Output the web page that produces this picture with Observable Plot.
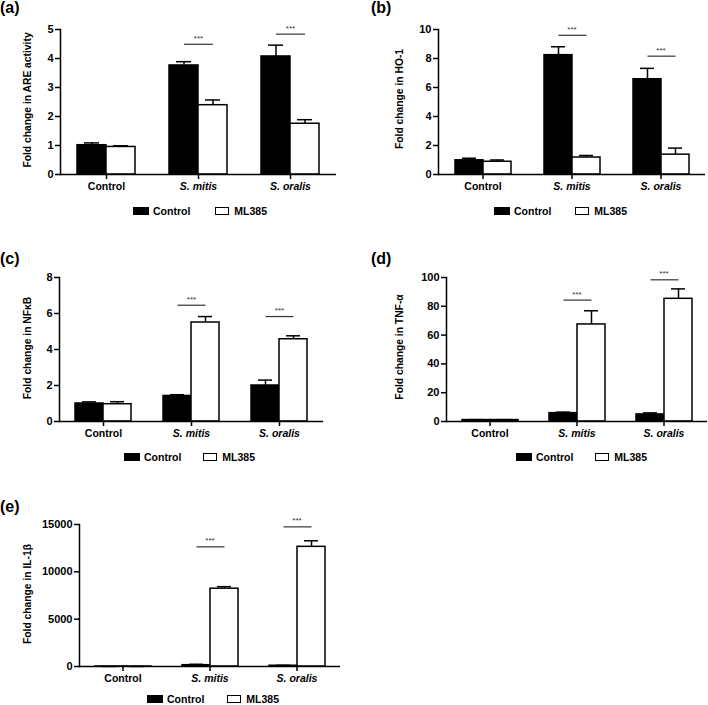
<!DOCTYPE html>
<html><head><meta charset="utf-8">
<script src="https://cdn.jsdelivr.net/npm/d3@7"></script>
<script src="https://cdn.jsdelivr.net/npm/@observablehq/plot@0.6"></script>
<style>
body{margin:0;background:#fff;}
#root{position:relative;width:708px;height:705px;font-family:"Liberation Sans",Arial,sans-serif;color:#000;}
.panel{position:absolute;}
.tag{position:absolute;font-weight:bold;font-size:16px;line-height:16px;}
.ylab{position:absolute;font-weight:bold;font-size:10.3px;line-height:11px;white-space:nowrap;transform:translate(-50%,-50%) rotate(-90deg);}
.legend{position:absolute;display:flex;align-items:center;font-weight:bold;font-size:10.5px;height:11px;line-height:11px;white-space:nowrap;}
.sw{display:inline-block;height:8px;box-sizing:border-box;}
</style></head><body><div id="root"></div>
<script>
// ---- data ----
const groups = ["Control", "S. mitis", "S. oralis"];
const treatments = ["Control", "ML385"];
const sigGroups = ["S. mitis", "S. oralis"];

// (a) ARE activity
const areControlMean = [1.01, 3.76, 4.07];
const areControlSem  = [0.08, 0.13, 0.39];
const areMl385Mean   = [0.95, 2.39, 1.75];
const areMl385Sem    = [0.04, 0.18, 0.14];
const areSigY        = [4.49, 4.84];
const areTicks       = [0, 1, 2, 3, 4, 5];

// (b) HO-1
const hoControlMean = [0.98, 8.23, 6.57];
const hoControlSem  = [0.14, 0.58, 0.75];
const hoMl385Mean   = [0.88, 1.17, 1.37];
const hoMl385Sem    = [0.12, 0.14, 0.45];
const hoSigY        = [9.6, 8.16];
const hoTicks       = [0, 2, 4, 6, 8, 10];

// (c) NFkB
const nfControlMean = [1.0, 1.42, 2.0];
const nfControlSem  = [0.09, 0.07, 0.3];
const nfMl385Mean   = [0.96, 5.5, 4.57];
const nfMl385Sem    = [0.14, 0.33, 0.19];
const nfSigY        = [6.46, 5.83];
const nfTicks       = [0, 2, 4, 6, 8];

// (d) TNF-alpha
const tnfControlMean = [1.0, 5.8, 4.9];
const tnfControlSem  = [0.3, 0.7, 1.1];
const tnfMl385Mean   = [1.0, 67.4, 85.2];
const tnfMl385Sem    = [0.3, 9.5, 6.9];
const tnfSigY        = [84.3, 98.4];
const tnfTicks       = [0, 20, 40, 60, 80, 100];

// (e) IL-1beta
const ilControlMean = [1, 140, 80];
const ilControlSem  = [1, 90, 40];
const ilMl385Mean   = [1, 8220, 12640];
const ilMl385Sem    = [1, 215, 640];
const ilSigY        = [12640, 14750];
const ilTicks       = [0, 5000, 10000, 15000];

// ---- layout ----
const FONT = '"Liberation Sans", Arial, sans-serif';
const panels = [
  {tag:"(a)", tagX:0, tagY:0, left:0, top:0, w:354, h:200, ml:59, mr:17, mt:29, mb:26, max:5, ticks:areTicks, pad:0.57,
   label:"Fold change in ARE activity", labX:27, labY:100, c:areControlMean, cs:areControlSem, m:areMl385Mean, ms:areMl385Sem, sig:areSigY, legX:133, legY:211, gap:25},
  {tag:"(b)", tagX:371, tagY:0, left:354, top:0, w:354, h:200, ml:83, mr:2, mt:29, mb:26, max:10, ticks:hoTicks, pad:0.55,
   label:"Fold change in HO-1", labX:399, labY:99, c:hoControlMean, cs:hoControlSem, m:hoMl385Mean, ms:hoMl385Sem, sig:hoSigY, legX:494, legY:211, gap:24},
  {tag:"(c)", tagX:0, tagY:251, left:0, top:230, w:354, h:220, ml:58, mr:31, mt:47, mb:29, max:8, ticks:nfTicks, pad:0.52,
   label:"Fold change in NF\u03BAB", labX:27, labY:347.5, c:nfControlMean, cs:nfControlSem, m:nfMl385Mean, ms:nfMl385Sem, sig:nfSigY, legX:124, legY:457, gap:22},
  {tag:"(d)", tagX:371, tagY:251, left:354, top:230, w:354, h:220, ml:91, mr:1, mt:47, mb:29, max:100, ticks:tnfTicks, pad:0.51,
   label:"Fold change in TNF-\u03B1", labX:399, labY:347, c:tnfControlMean, cs:tnfControlSem, m:tnfMl385Mean, ms:tnfMl385Sem, sig:tnfSigY, legX:516, legY:457, gap:22},
  {tag:"(e)", tagX:0, tagY:499, left:0, top:470, w:354, h:220, ml:79, mr:14, mt:54, mb:24, max:15000, ticks:ilTicks, pad:0.55,
   label:"Fold change in IL-1\u03B2", labX:27, labY:594, c:ilControlMean, cs:ilControlSem, m:ilMl385Mean, ms:ilMl385Sem, sig:ilSigY, legX:147, legY:699, gap:23}
];

const root = document.getElementById("root");

function buildPanel(p) {
  const rows = [];
  groups.forEach((g, i) => {
    rows.push({group: g, treatment: treatments[0], mean: p.c[i], sem: p.cs[i]});
    rows.push({group: g, treatment: treatments[1], mean: p.m[i], sem: p.ms[i]});
  });
  const sig = sigGroups.map((g, i) => ({group: g, y: p.sig[i]}));
  const chart = Plot.plot({
    width: p.w, height: p.h,
    marginLeft: p.ml, marginRight: p.mr, marginTop: p.mt, marginBottom: p.mb,
    style: {fontFamily: FONT, fontSize: "10.5px", color: "black", background: "transparent", overflow: "visible"},
    fx: {domain: groups, padding: 0, label: null},
    x: {domain: treatments, paddingInner: 0, paddingOuter: p.pad, axis: null},
    y: {domain: [0, p.max]},
    color: {domain: treatments, range: ["black", "white"]},
    marks: [
      Plot.ruleX(rows, {fx: "group", x: "treatment", y1: "mean", y2: d => d.mean + d.sem, stroke: "black", strokeWidth: 1.5}),
      Plot.tickY(rows, {fx: "group", x: "treatment", y: d => d.mean + d.sem, insetLeft: 7, insetRight: 7, stroke: "black", strokeWidth: 1.5}),
      Plot.barY(rows, {fx: "group", x: "treatment", y: "mean", fill: "treatment", stroke: "black", strokeWidth: 1.5}),
      Plot.link(sig, {fx: "group", x1: () => treatments[0], x2: () => treatments[1], y1: "y", y2: "y", stroke: "#333", strokeWidth: 1.2}),
      Plot.text(sig, {fx: "group", y: "y", text: () => "***", dy: -6, fontSize: 8, fill: "#333"}),
      Plot.ruleY([0], {stroke: "black", strokeWidth: 1.5}),
      Plot.frame({anchor: "left", facetAnchor: "left", stroke: "black", strokeWidth: 1.5}),
      Plot.axisY({ticks: p.ticks, tickFormat: d => String(d), tickSize: 5, tickPadding: 2, fontWeight: "bold",
                  fontSize: 11, strokeWidth: 1.5, label: null}),
      Plot.axisFx({anchor: "bottom", tickSize: 5, tickPadding: 3, fontWeight: "bold", label: null, strokeWidth: 1.5})
    ]
  });
  chart.classList.add("panel");
  chart.style.left = p.left + "px";
  chart.style.top = p.top + "px";
  chart.querySelectorAll("text").forEach(t => {
    if (t.textContent.startsWith("S.")) t.setAttribute("font-style", "italic");
  });
  root.appendChild(chart);

  const lab = document.createElement("div");
  lab.className = "ylab";
  lab.textContent = p.label;
  lab.style.left = p.labX + "px";
  lab.style.top = p.labY + "px";
  root.appendChild(lab);

  const tag = document.createElement("div");
  tag.className = "tag";
  tag.textContent = p.tag;
  tag.style.left = p.tagX + "px";
  tag.style.top = p.tagY + "px";
  root.appendChild(tag);

  const leg = document.createElement("div");
  leg.className = "legend";
  leg.style.left = p.legX + "px";
  leg.style.top = (p.legY - 5.5) + "px";
  const s1 = document.createElement("span"); s1.className = "sw";
  s1.style.width = "16px"; s1.style.background = "black"; s1.style.marginRight = "4px";
  const t1 = document.createElement("span"); t1.textContent = treatments[0];
  const s2 = document.createElement("span"); s2.className = "sw";
  s2.style.width = "14px"; s2.style.background = "white"; s2.style.border = "1.2px solid black";
  s2.style.marginLeft = p.gap + "px"; s2.style.marginRight = "5px";
  const t2 = document.createElement("span"); t2.textContent = treatments[1];
  leg.append(s1, t1, s2, t2);
  root.appendChild(leg);
}

panels.forEach(buildPanel);
</script>
</body></html>
